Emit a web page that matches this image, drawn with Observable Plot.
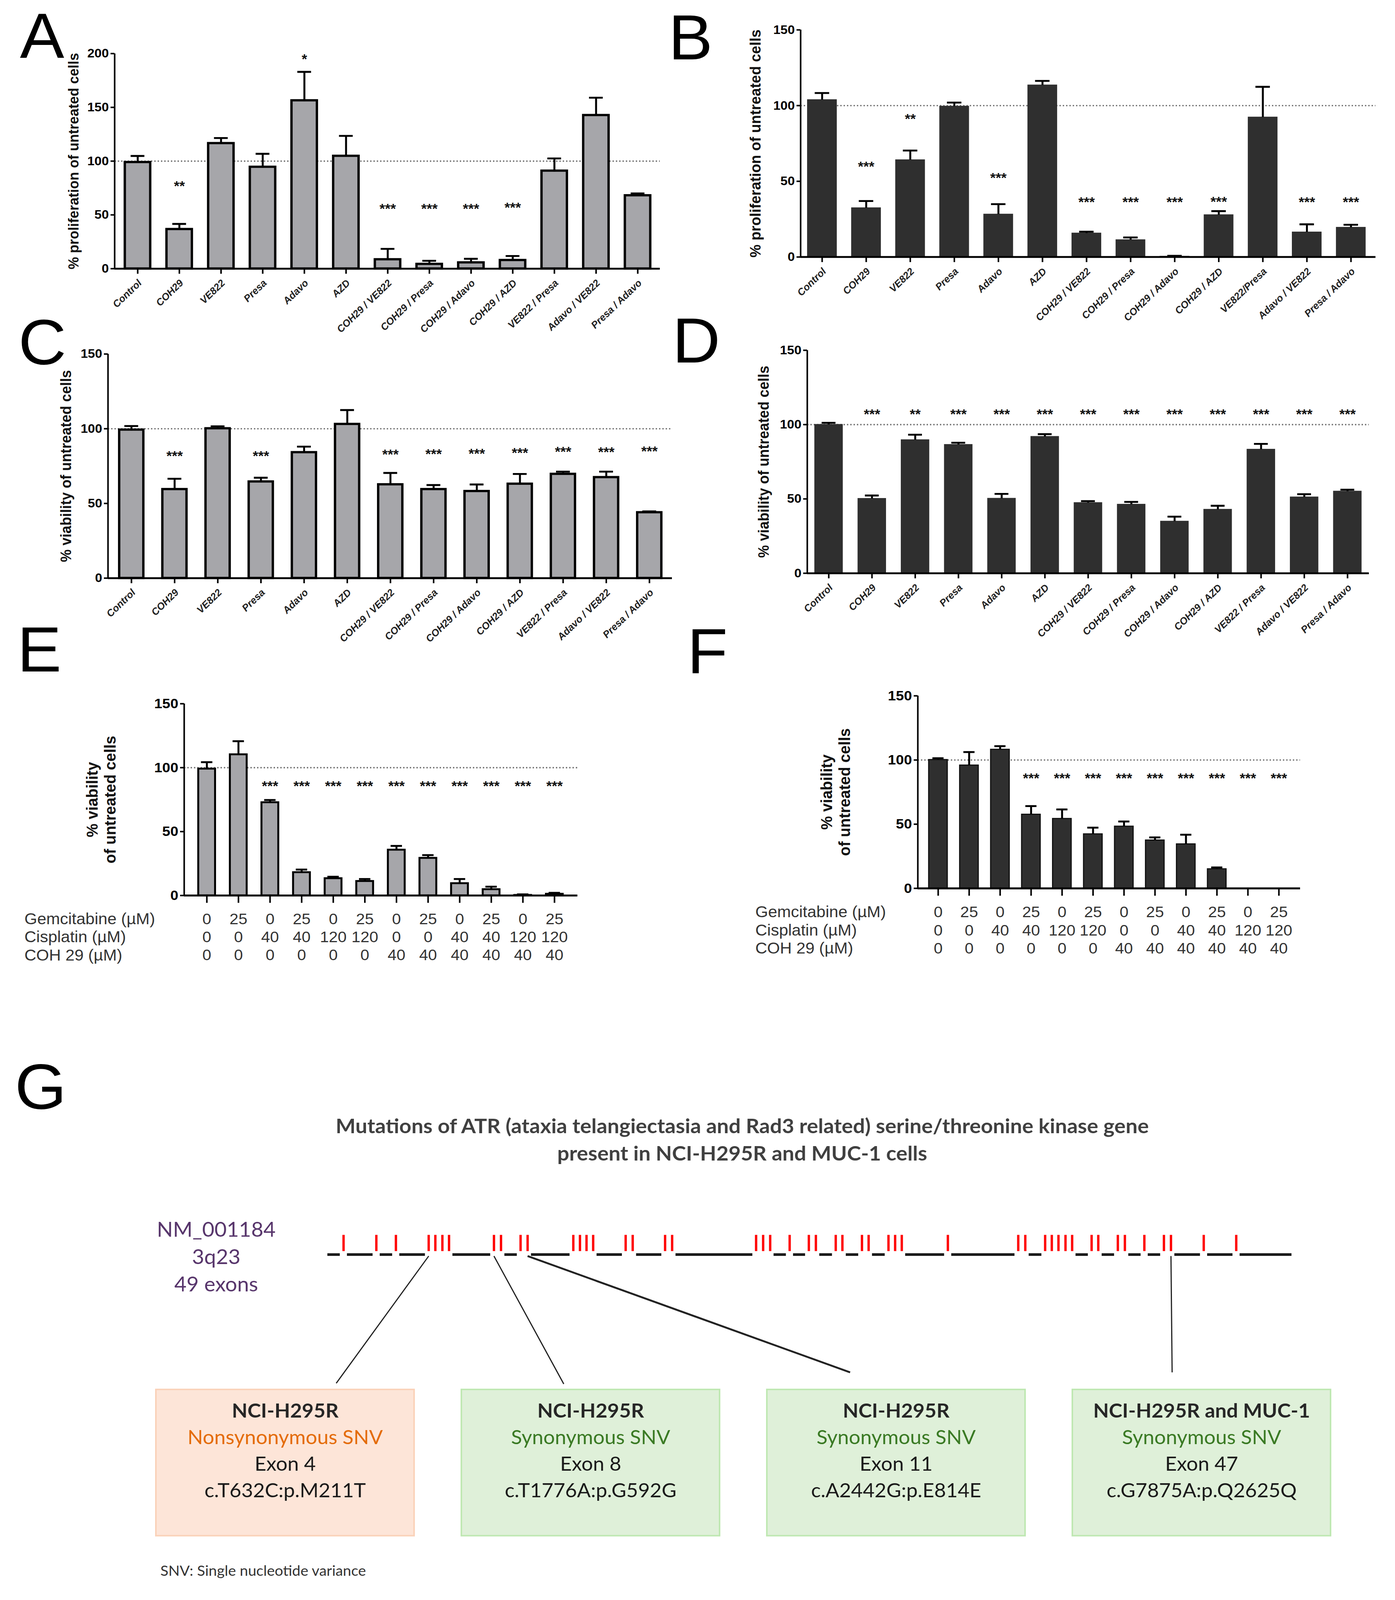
<!DOCTYPE html>
<html><head><meta charset="utf-8">
<script src="https://cdn.jsdelivr.net/npm/d3@7"></script>
<script src="https://cdn.jsdelivr.net/npm/@observablehq/plot@0.6"></script>
<style>
html,body{margin:0;padding:0;background:#fff;overflow:hidden;}
#fig{position:relative;width:3571px;height:4255px;overflow:hidden;background:#fff;}
.panel{position:absolute;}
.letter{position:absolute;font-family:"Liberation Sans",Arial,sans-serif;font-size:170px;line-height:1;color:#000;}
.gtitle{position:absolute;font-family:Lato,"Open Sans",sans-serif;font-weight:700;color:#404040;text-align:center;font-size:54px;line-height:72px;}
</style></head><body><div id="fig"></div>
<script>
// ---------------- DATA ----------------
const drugLabelsA = ["Control","COH29","VE822","Presa","Adavo","AZD","COH29 / VE822","COH29 / Presa","COH29 / Adavo","COH29 / AZD","VE822 / Presa","Adavo / VE822","Presa / Adavo"];
const drugLabelsB = ["Control","COH29","VE822","Presa","Adavo","AZD","COH29 / VE822","COH29 / Presa","COH29 / Adavo","COH29 / AZD","VE822/Presa","Adavo / VE822","Presa / Adavo"];

const valuesA = [99, 36.7, 116.6, 94.6, 156.4, 104.8, 8.6, 4.3, 5.7, 7.9, 91, 142.7, 68.1];
const semA    = [5.8, 4.9, 4.9, 12.2, 26.6, 18.7, 9.8, 3.0, 3.5, 3.9, 11.5, 16.3, 1.9];
const starsA  = ["", "**", "", "", "*", "", "***", "***", "***", "***", "", "", ""];
const starYA  = [null, 80, null, null, 198, null, 59, 59, 59, 60, null, null, null];

const valuesB = [103.8, 32.4, 64.1, 99.5, 28.2, 113.5, 15.7, 11.3, 0.4, 27.8, 92.3, 16.4, 19.5];
const semB    = [4.5, 4.6, 6.2, 2.5, 6.7, 2.8, 1.0, 1.6, 0.4, 2.5, 20.1, 5.2, 1.8];
const starsB  = ["", "***", "**", "", "***", "", "***", "***", "***", "***", "", "***", "***"];
const starYB  = [null, 62, 93.5, null, 54.7, null, 38.7, 38.7, 38.7, 39, null, 38.7, 38.7];

const valuesC = [99.3, 59.5, 100.2, 64.6, 84.2, 103.1, 62.7, 59.5, 58.2, 63.1, 69.7, 67.5, 44];
const semC    = [2.5, 7.0, 1.4, 2.6, 3.8, 9.4, 7.7, 2.8, 4.5, 6.6, 1.6, 3.8, 0.7];
const starsC  = ["", "***", "", "***", "", "", "***", "***", "***", "***", "***", "***", "***"];
const starYC  = [null, 84, null, 84.2, null, null, 85.1, 85.5, 85.8, 86.3, 87.1, 86.8, 87.3];

const valuesD = [100, 50.2, 89.7, 86.5, 50.3, 91.9, 47.4, 46.3, 34.9, 42.9, 83.3, 51.2, 55.1];
const semD    = [1.2, 2.1, 3.5, 1.3, 3.1, 1.7, 1.1, 1.7, 3.2, 2.5, 3.7, 2.0, 1.1];
const starsD  = ["", "***", "**", "***", "***", "***", "***", "***", "***", "***", "***", "***", "***"];
const starYD  = 109.3;

const gemcitabine = [0, 25, 0, 25, 0, 25, 0, 25, 0, 25, 0, 25];
const cisplatin   = [0, 0, 40, 40, 120, 120, 0, 0, 40, 40, 120, 120];
const coh29       = [0, 0, 0, 0, 0, 0, 40, 40, 40, 40, 40, 40];
const tableRowLabels = ["Gemcitabine (µM)", "Cisplatin (µM)", "COH 29 (µM)"];

const valuesE = [99.1, 110.3, 72.8, 18.1, 13.4, 11.2, 35.7, 29.3, 9.5, 4.8, 0.3, 1.2];
const semE    = [5.2, 10.4, 1.9, 2.2, 1.3, 1.7, 3.1, 2.3, 3.4, 2.1, 0.6, 0.9];
const starsE  = ["", "", "***", "***", "***", "***", "***", "***", "***", "***", "***", "***"];
const starYE  = 88.3;

const valuesF = [100.2, 95.9, 108.2, 57.6, 54.3, 42.3, 48.3, 37.5, 34.5, 15.1, 0, 0];
const semF    = [1.2, 10.3, 2.6, 6.5, 7.2, 5.0, 3.8, 2.2, 7.3, 1.2, 0, 0];
const starsF  = ["", "", "", "***", "***", "***", "***", "***", "***", "***", "***", "***"];
const starYF  = 88.5;

// Panel G: exon positions along the ATR gene (% of drawn gene length)
const exonPos = [1.66, 5.06, 7.09, 10.49, 11.18, 11.91, 12.60, 17.26, 17.99, 20.02, 20.75,
  25.49, 26.18, 26.86, 27.55, 30.92, 31.65, 35.01, 35.74, 44.45, 45.18, 45.91, 47.93,
  49.92, 50.65, 52.71, 53.40, 55.43, 56.12, 58.18, 58.87, 59.56, 64.34, 71.64, 72.37,
  74.43, 75.12, 75.81, 76.54, 77.23, 79.25, 79.94, 81.97, 82.70, 84.72, 86.75, 87.48,
  90.88, 94.25];
const geneLabel = ["NM_001184", "3q23", "49 exons"];
const gTitle = ["Mutations of ATR (ataxia telangiectasia and Rad3 related) serine/threonine kinase gene", "present in NCI-H295R and MUC-1 cells"];
const mutatedExon = [4, 8, 11, 47];
const boxCells   = ["NCI-H295R", "NCI-H295R", "NCI-H295R", "NCI-H295R and MUC-1"];
const boxTypes   = ["Nonsynonymous SNV", "Synonymous SNV", "Synonymous SNV", "Synonymous SNV"];
const boxExons   = ["Exon 4", "Exon 8", "Exon 11", "Exon 47"];
const boxChanges = ["c.T632C:p.M211T", "c.T1776A:p.G592G", "c.A2442G:p.E814E", "c.G7875A:p.Q2625Q"];
const captionG = "SNV: Single nucleotide variance";

// ---------------- LAYOUT / STYLE ----------------
const fig = document.getElementById("fig");
// The figure is laid out at 3571×4255; if the viewport is shorter, squeeze it to fit.
const FIT = Math.min(1, (window.innerHeight || 4255) / 4255);
if (FIT < 1) { fig.style.transformOrigin = "0 0"; fig.style.transform = `scaleY(${FIT})`; }

const FONT = '"Liberation Sans", Arial, sans-serif';
const GREY = "#a6a6aa", DARK = "#2f2f2f";

function place(el, left, top, w, h) {
  const d = document.createElement("div");
  d.className = "panel";
  d.style.left = left + "px"; d.style.top = top + "px";
  if (w) d.style.width = w + "px";
  if (h) d.style.height = h + "px";
  d.appendChild(el);
  fig.appendChild(d);
}

function letter(ch, left, top) {
  const d = document.createElement("div");
  d.className = "letter";
  d.textContent = ch;
  d.style.left = left + "px"; d.style.top = top + "px";
  fig.appendChild(d);
}

function barPanel(c) {
  const n = c.values.length;
  const rows = c.values.map((v, i) => ({
    i, v, top: v + c.sems[i], s: c.stars[i],
    sy: Array.isArray(c.starY) ? c.starY[i] : c.starY
  }));
  const shown = rows.filter(d => d.v > 0);
  const mL = 440, mR = 40, mT = 60, mB = 300;
  const W = c.x1 - c.x0, H = c.yB - c.yT;
  const marks = [
    Plot.ruleY([100], {stroke: "#707070", strokeWidth: 3.5, strokeDasharray: "3.5,5"}),
    Plot.rectY(shown, {x1: d => d.i - c.hw, x2: d => d.i + c.hw, y1: 0, y2: "v",
      fill: c.fill, stroke: c.stroke, strokeWidth: c.sw}),
    Plot.ruleX(shown, {x: "i", y1: "v", y2: "top", stroke: "#000", strokeWidth: 5}),
    Plot.ruleY(shown, {y: "top", x1: d => d.i - c.cap, x2: d => d.i + c.cap, stroke: "#000", strokeWidth: 5}),
    Plot.ruleY([0], {stroke: "#000", strokeWidth: 5}),
    Plot.ruleX([c.xDomain[0]], {y1: 0, y2: c.yMax, stroke: "#000", strokeWidth: 4}),
    Plot.axisY({ticks: c.ticks, tickSize: 10, tickPadding: 5, fontSize: c.tickFont,
      fontWeight: "bold", strokeWidth: 4, label: null, tickFormat: d => String(d)}),
    Plot.axisX({ticks: d3.range(n), tickSize: c.xTick, tickFormat: () => "", strokeWidth: 4, label: null}),
    Plot.text(rows.filter(d => d.s), {x: "i", y: "sy", text: "s", fontWeight: "bold",
      fontSize: c.starFont, dy: 10, fill: "#111"}),
    Plot.text([c.yLabel], {text: d => d, frameAnchor: "left", dx: c.yLabelDx, rotate: -90,
      textAnchor: "middle", lineAnchor: "middle",
      fontWeight: "bold", fontSize: c.labelFont, lineHeight: 1.12, fill: "#111"})
  ];
  if (c.labels) {
    marks.push(Plot.text(c.labels, {x: (d, i) => i, text: d => d, frameAnchor: "bottom",
      rotate: -45, textAnchor: "end", lineAnchor: "middle", dx: 6, dy: 34, fontSize: c.xFont,
      fontWeight: "bold", fontStyle: "italic", fill: "#222"}));
  }
  if (c.table) {
    c.table.rows.forEach((r, k) => {
      marks.push(Plot.text([r.label], {text: d => d, frameAnchor: "bottom-left",
        dx: c.table.labelDx, dy: c.table.dy[k], textAnchor: "start", lineAnchor: "middle", fontSize: 42, fill: "#333"}));
      marks.push(Plot.text(r.values, {x: (d, i) => i, text: d => String(d), frameAnchor: "bottom",
        dy: c.table.dy[k], lineAnchor: "middle", fontSize: 41, fill: "#333"}));
    });
  }
  const svg = Plot.plot({
    width: W + mL + mR, height: H + mT + mB,
    marginLeft: mL, marginRight: mR, marginTop: mT, marginBottom: mB,
    x: {type: "linear", domain: c.xDomain},
    y: {domain: [0, c.yMax]},
    style: {fontFamily: FONT, overflow: "visible", background: "transparent", color: "#000", maxWidth: "none"},
    marks
  });
  place(svg, c.x0 - mL, c.yT - mT, W + mL + mR, H + mT + mB);
}

const common = {tickFont: 33, starFont: 36, xFont: 26, xTick: 14};

barPanel({...common, labels: drugLabelsA, values: valuesA, sems: semA, stars: starsA, starY: starYA,
  x0: 293, x1: 1689, yT: 142, yB: 714, yMax: 200, ticks: [0, 50, 100, 150, 200],
  xDomain: [-0.553, 12.534], hw: 0.305, cap: 0.165, fill: GREY, stroke: "#000", sw: 6,
  yLabel: "% proliferation of untreated cells", yLabelDx: -106, labelFont: 37});

barPanel({...common, labels: drugLabelsB, values: valuesB, sems: semB, stars: starsB, starY: starYB,
  x0: 2049, x1: 3521, yT: 79, yB: 683, yMax: 150, ticks: [0, 50, 100, 150],
  xDomain: [-0.488, 12.56], hw: 0.328, cap: 0.164, fill: DARK, stroke: DARK, sw: 2,
  yLabel: "% proliferation of untreated cells", yLabelDx: -116, labelFont: 39});

barPanel({...common, labels: drugLabelsA, values: valuesC, sems: semC, stars: starsC, starY: starYC,
  x0: 276, x1: 1720, yT: 941, yB: 1537, yMax: 150, ticks: [0, 50, 100, 150],
  xDomain: [-0.543, 12.525], hw: 0.28, cap: 0.16, fill: GREY, stroke: "#000", sw: 6,
  yLabel: "% viability of untreated cells", yLabelDx: -108, labelFont: 38});

barPanel({...common, labels: drugLabelsA, values: valuesD, sems: semD, stars: starsD, starY: starYD,
  x0: 2066, x1: 3504, yT: 931, yB: 1524, yMax: 150, ticks: [0, 50, 100, 150],
  xDomain: [-0.497, 12.497], hw: 0.32, cap: 0.16, fill: DARK, stroke: DARK, sw: 2,
  yLabel: "% viability of untreated cells", yLabelDx: -112, labelFont: 38});

const tableRows = [
  {label: tableRowLabels[0], values: gemcitabine},
  {label: tableRowLabels[1], values: cisplatin},
  {label: tableRowLabels[2], values: coh29}
];

barPanel({tickFont: 37, starFont: 36, xTick: 20, values: valuesE, sems: semE, stars: starsE, starY: starYE,
  x0: 471, x1: 1478, yT: 1871, yB: 2381, yMax: 150, ticks: [0, 50, 100, 150],
  xDomain: [-0.717, 11.73], hw: 0.266, cap: 0.18, fill: GREY, stroke: "#000", sw: 5,
  yLabel: "% viability\nof untreated cells", yLabelDx: -213, labelFont: 41,
  table: {rows: tableRows, dy: [63, 111, 159], labelDx: -409}});

barPanel({tickFont: 37, starFont: 36, xTick: 20, values: valuesF, sems: semF, stars: starsF, starY: starYF,
  x0: 2349, x1: 3328, yT: 1850, yB: 2362, yMax: 150, ticks: [0, 50, 100, 150],
  xDomain: [-0.657, 11.69], hw: 0.30, cap: 0.18, fill: DARK, stroke: "#111", sw: 3,
  yLabel: "% viability\nof untreated cells", yLabelDx: -211, labelFont: 41,
  table: {rows: tableRows, dy: [63, 112, 160], labelDx: -416}});

// ---------------- PANEL G ----------------
// gene track
(function () {
  const x0 = 838, x1 = 3306, yT = 3284, yB = 3683;
  const mL = 480, mR = 60, mT = 20, mB = 20;
  const BACKBONE = 0.87, EXON_BASE = 0.892, LINK_TOP = 0.86, GAP = 0.37;
  const connectorEnd = [0.9, 24.5, 54.2, 87.6];
  const connectorEndY = [0.0125, 0.0075, 0.085, 0.085];
  const connectorW = [3, 3, 5, 3];
  const bounds = [0, ...exonPos, 100];
  const segs = [];
  for (let k = 0; k < bounds.length - 1; k++) {
    const a = k === 0 ? bounds[k] : bounds[k] + GAP;
    const b = k === bounds.length - 2 ? bounds[k + 1] : bounds[k + 1] - GAP;
    if (b > a) segs.push({a, b});
  }
  const links = mutatedExon.map((e, k) => ({from: exonPos[e - 1], to: connectorEnd[k], toY: connectorEndY[k], w: connectorW[k]}));
  const svg = Plot.plot({
    width: x1 - x0 + mL + mR, height: yB - yT + mT + mB,
    marginLeft: mL, marginRight: mR, marginTop: mT, marginBottom: mB,
    x: {domain: [0, 100], axis: null},
    y: {domain: [0, 1], axis: null},
    style: {fontFamily: "Lato, 'Open Sans', sans-serif", overflow: "visible", background: "transparent", maxWidth: "none"},
    marks: [
      Plot.ruleY(segs, {x1: "a", x2: "b", y: BACKBONE, stroke: "#1a1a1a", strokeWidth: 7}),
      Plot.ruleX(exonPos, {x: d => d, y1: EXON_BASE, y2: 1, stroke: "#ff0000", strokeWidth: 6}),
      Plot.link(links, {x1: "from", y1: LINK_TOP, x2: "to", y2: "toY", stroke: "#222", strokeWidth: "w"}),
      Plot.text([geneLabel.join("\n")], {text: d => d, frameAnchor: "top-left", dx: -285, dy: 54,
        textAnchor: "middle", lineAnchor: "middle", lineHeight: 1.35, fontSize: 54, fill: "#58366c"})
    ]
  });
  place(svg, x0 - mL, yT - mT, x1 - x0 + mL + mR, yB - yT + mT + mB);
})();

// mutation boxes
(function () {
  const x0 = 398, x1 = 3406, yT = 3695, yB = 4084;
  const mL = 20, mR = 20, mT = 10, mB = 150;
  const kindStyle = {
    "Nonsynonymous SNV": {bg: "#fde5d8", border: "#fad2b9", ink: "#e46c0a"},
    "Synonymous SNV": {bg: "#dff0d9", border: "#bfe8b2", ink: "#3a7a24"}
  };
  const boxes = boxExons.map((ex, k) => ({
    exon: ex, cell: boxCells[k], type: boxTypes[k], change: boxChanges[k],
    bg: kindStyle[boxTypes[k]].bg, border: kindStyle[boxTypes[k]].border, ink: kindStyle[boxTypes[k]].ink
  }));
  const t = {x: "exon", frameAnchor: "top", lineAnchor: "middle", textAnchor: "middle", fontSize: 52};
  const svg = Plot.plot({
    width: x1 - x0 + mL + mR, height: yB - yT + mT + mB,
    marginLeft: mL, marginRight: mR, marginTop: mT, marginBottom: mB,
    x: {type: "band", domain: boxExons, paddingInner: 0.155, paddingOuter: 0, axis: null},
    y: {domain: [0, 1], axis: null},
    color: {type: "identity"},
    style: {fontFamily: "Lato, 'Open Sans', sans-serif", overflow: "visible", background: "transparent", maxWidth: "none"},
    marks: [
      Plot.barY(boxes, {x: "exon", y1: 0, y2: 1, fill: "bg", stroke: "border", strokeWidth: 4}),
      Plot.text(boxes, {...t, text: "cell", dy: 58, fontWeight: "bold", fill: "#262626"}),
      Plot.text(boxes, {...t, text: "type", dy: 128, fill: "ink"}),
      Plot.text(boxes, {...t, text: "exon", dy: 199, fill: "#1a1a1a"}),
      Plot.text(boxes, {...t, text: "change", dy: 270, fill: "#1a1a1a"}),
      Plot.text([captionG], {text: d => d, frameAnchor: "bottom-left", dx: 12, dy: 94,
        textAnchor: "start", lineAnchor: "middle", fontSize: 38, fill: "#333"})
    ]
  });
  place(svg, x0 - mL, yT - mT, x1 - x0 + mL + mR, yB - yT + mT + mB);
})();

// title of G
(function () {
  const d = document.createElement("div");
  d.className = "gtitle";
  d.style.left = (1900 - 1600) + "px"; d.style.top = "2958px"; d.style.width = "3200px";
  d.innerHTML = gTitle.map(t => `<div>${t}</div>`).join("");
  fig.appendChild(d);
})();

// panel letters
letter("A", 51, 10);
letter("B", 1711, 14);
letter("C", 47, 824);
letter("D", 1721, 820);
letter("E", 44, 1642);
letter("F", 1759, 1647);
letter("G", 38, 2804);
</script></body></html>
